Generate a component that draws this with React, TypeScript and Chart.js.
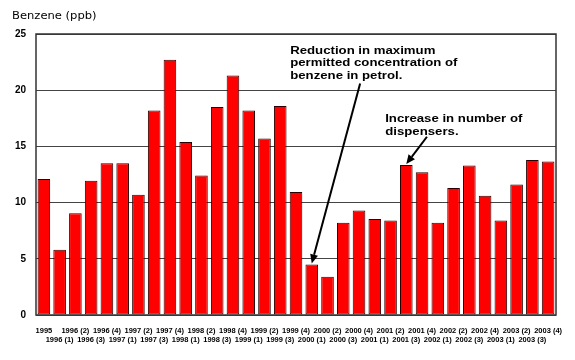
import React, { useEffect, useRef } from "react";
import { Chart, registerables } from "chart.js";

Chart.register(...registerables);

const categories = [
  "1995",
  "1996 (1)", "1996 (2)", "1996 (3)", "1996 (4)",
  "1997 (1)", "1997 (2)", "1997 (3)", "1997 (4)",
  "1998 (1)", "1998 (2)", "1998 (3)", "1998 (4)",
  "1999 (1)", "1999 (2)", "1999 (3)", "1999 (4)",
  "2000 (1)", "2000 (2)", "2000 (3)", "2000 (4)",
  "2001 (1)", "2001 (2)", "2001 (3)", "2001 (4)",
  "2002 (1)", "2002 (2)", "2002 (3)", "2002 (4)",
  "2003 (1)", "2003 (2)", "2003 (3)", "2003 (4)",
];

const benzene = [
  12.1, 5.8, 9.05, 11.95, 13.5, 13.5, 10.7, 18.2, 22.7, 15.4, 12.4,
  18.5, 21.3, 18.2, 15.7, 18.6, 10.95, 4.5, 3.4, 8.2, 9.3, 8.55,
  8.4, 13.35, 12.7, 8.2, 11.3, 13.3, 10.6, 8.4, 11.6, 13.8, 13.65,
];

const yTicks = [0, 5, 10, 15, 20, 25];

const axisTitle = "Benzene (ppb)";

// annotations in data units (category index, value)
const notes = [
  {
    lines: ["Reduction in maximum", "permitted concentration of", "benzene in petrol."],
    textAt: [15.63, 23.5],
    tail: [20.07, 20.6],
    tip: [17, 4.5],
  },
  {
    lines: ["Increase in number of", "dispensers."],
    textAt: [21.66, 17.4],
    tail: [24.31, 15.86],
    tip: [23, 13.35],
  },
];

const FONT = "Arial, 'Liberation Sans', sans-serif";

function drawArrow(ctx: CanvasRenderingContext2D, x1: number, y1: number, x2: number, y2: number) {
  const ang = Math.atan2(y2 - y1, x2 - x1);
  const len = 9;
  const half = 4;
  const bx = x2 - len * Math.cos(ang);
  const by = y2 - len * Math.sin(ang);
  ctx.save();
  ctx.strokeStyle = "#000";
  ctx.fillStyle = "#000";
  ctx.lineWidth = 2;
  ctx.beginPath();
  ctx.moveTo(x1, y1);
  ctx.lineTo(bx, by);
  ctx.stroke();
  ctx.beginPath();
  ctx.moveTo(x2, y2);
  ctx.lineTo(bx + half * Math.sin(ang), by - half * Math.cos(ang));
  ctx.lineTo(bx - half * Math.sin(ang), by + half * Math.cos(ang));
  ctx.closePath();
  ctx.fill();
  ctx.restore();
}

function stretchedText(ctx: CanvasRenderingContext2D, text: string, x: number, y: number, sx: number) {
  ctx.save();
  ctx.translate(x, y);
  ctx.scale(sx, 1);
  ctx.fillText(text, 0, 0);
  ctx.restore();
}

const decorPlugin = {
  id: "decor",
  afterDraw(chart: any) {
    const { ctx, chartArea: a, scales } = chart;
    const x = scales.x;
    const y = scales.y;
    ctx.save();
    // frame
    ctx.strokeStyle = "#333";
    ctx.lineWidth = 1.5;
    ctx.strokeRect(a.left, a.top, a.right - a.left, a.bottom - a.top);
    // axis title
    ctx.fillStyle = "#000";
    ctx.font = `11px 'DejaVu Sans', ${FONT}`;
    ctx.textAlign = "left";
    ctx.textBaseline = "middle";
    stretchedText(ctx, axisTitle, 12, 16, 1.05);
    // annotations
    ctx.font = `bold 11px ${FONT}`;
    for (const n of notes) {
      const tx = x.getPixelForValue(n.textAt[0]);
      const ty = y.getPixelForValue(n.textAt[1]);
      n.lines.forEach((l, i) => stretchedText(ctx, l, tx, ty + i * 12.4, 1.2));
      drawArrow(
        ctx,
        x.getPixelForValue(n.tail[0]),
        y.getPixelForValue(n.tail[1]),
        x.getPixelForValue(n.tip[0]),
        y.getPixelForValue(n.tip[1]) - 1
      );
    }
    ctx.restore();
  },
};

export default function App() {
  const ref = useRef<HTMLCanvasElement>(null);
  useEffect(() => {
    document.body.style.margin = "0";
    const chart = new Chart(ref.current as HTMLCanvasElement, {
      type: "bar",
      data: {
        labels: categories,
        datasets: [
          {
            data: benzene,
            backgroundColor: "#ff0000",
            borderColor: "#2a0000",
            borderWidth: 1,
            borderSkipped: false,
            categoryPercentage: 1,
            barPercentage: 0.8,
          },
        ],
      },
      options: {
        animation: false,
        responsive: false,
        layout: { padding: { top: 34, right: 19, left: 0, bottom: 0 } },
        plugins: {
          legend: { display: false },
          tooltip: { enabled: false },
          title: { display: false },
        },
        scales: {
          x: {
            afterFit: (s: any) => {
              s.height = 45;
            },
            grid: { display: false, drawTicks: false },
            border: { display: false },
            ticks: {
              autoSkip: false,
              maxRotation: 0,
              minRotation: 0,
              padding: 11,
              color: "#000",
              font: { family: FONT, size: 7.5, weight: "bold", lineHeight: 1.25 },
              callback: (_v: any, i: number) =>
                i % 2 === 0 ? [categories[i], ""] : ["", categories[i]],
            },
          },
          y: {
            min: yTicks[0],
            max: yTicks[yTicks.length - 1],
            afterFit: (s: any) => {
              s.width = 36;
            },
            afterBuildTicks: (s: any) => {
              s.ticks = yTicks.map((v) => ({ value: v }));
            },
            grid: { color: "#444", lineWidth: 1, drawTicks: false },
            border: { display: false },
            ticks: {
              padding: 10,
              color: "#000",
              font: { family: FONT, size: 10, weight: "bold" },
            },
          },
        },
      },
      plugins: [decorPlugin],
    } as any);
    return () => chart.destroy();
  }, []);
  return (
    <div style={{ width: 575, height: 360 }}>
      <canvas ref={ref} width={575} height={360} style={{ display: "block" }} />
    </div>
  );
}
